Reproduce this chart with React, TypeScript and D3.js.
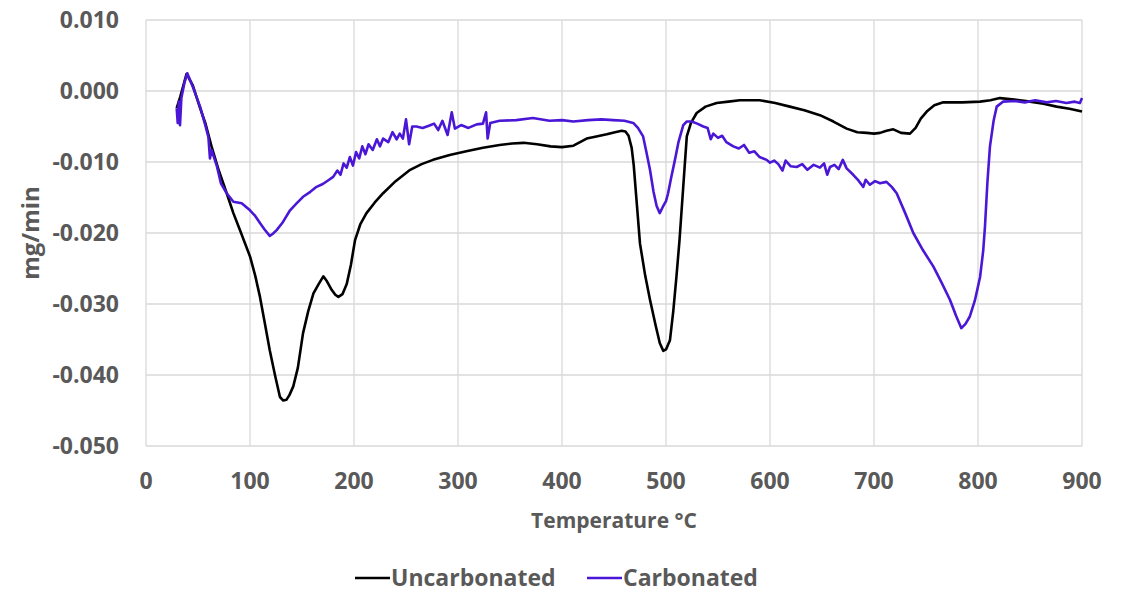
import React from "react";
import * as d3 from "d3";

const xTicks = [0, 100, 200, 300, 400, 500, 600, 700, 800, 900];
const yTicks = [0.01, 0.0, -0.01, -0.02, -0.03, -0.04, -0.05];

const uncarbonated: [number, number][] = [
  [29.5,-0.0024],[33,-0.0008],[39,0.0024],[45,0.0008],[52,-0.0024],[57,-0.0045],[63,-0.0078],[70,-0.0112],[77.6,-0.0144],[84,-0.0172],[90.4,-0.0196],[100,-0.0233],[105,-0.026],[109.6,-0.029],[114,-0.0325],[119,-0.0365],[124,-0.04],[128.8,-0.0431],[132,-0.0436],[135,-0.0435],[138,-0.0428],[141.6,-0.0416],[146,-0.039],[151,-0.0341],[156,-0.031],[161,-0.0285],[166,-0.0272],[170.5,-0.0261],[174,-0.0268],[178.5,-0.028],[182,-0.0287],[185,-0.029],[189,-0.0286],[193,-0.0272],[197,-0.0245],[201,-0.021],[206,-0.0188],[212,-0.0172],[220,-0.0157],[228,-0.0144],[240,-0.0127],[254,-0.0111],[265,-0.0103],[276,-0.0097],[292,-0.009],[308,-0.0085],[324,-0.008],[340,-0.0076],[352,-0.0074],[363,-0.0073],[376,-0.0075],[389,-0.0078],[400,-0.0079],[411,-0.0077],[423.7,-0.0067],[433,-0.0064],[443,-0.0061],[451,-0.0058],[457.4,-0.0056],[461,-0.0057],[464,-0.0063],[467,-0.008],[469,-0.0105],[472,-0.016],[475,-0.0215],[480,-0.026],[484.6,-0.0294],[490,-0.033],[494,-0.0355],[497.4,-0.0366],[500,-0.0364],[503.8,-0.0351],[507,-0.031],[510,-0.0262],[513,-0.021],[515,-0.0168],[518,-0.0105],[520,-0.0064],[524,-0.0045],[529.5,-0.0031],[538,-0.0022],[548.7,-0.0017],[560,-0.0015],[571,-0.0013],[590,-0.0013],[605,-0.0017],[619,-0.0022],[633,-0.0027],[648,-0.0034],[661,-0.0043],[673.7,-0.0053],[684,-0.0058],[693,-0.0059],[700,-0.006],[705.8,-0.0059],[712,-0.0056],[718.6,-0.0054],[726,-0.0059],[734.6,-0.006],[740,-0.0052],[745,-0.0039],[750.7,-0.0029],[758,-0.002],[766.6,-0.0016],[785,-0.0016],[802,-0.0015],[812,-0.0013],[821,-0.001],[835,-0.0012],[850,-0.0015],[863,-0.0018],[875.6,-0.0022],[888,-0.0025],[900,-0.0029]
];

const carbonated: [number, number][] = [
  [29.5,-0.0024],[30.5,-0.0045],[31.5,-0.0015],[32.7,-0.0048],[34,-0.001],[37,0.0012],[39.7,0.0025],[45,0.0006],[52,-0.0022],[57,-0.0048],[60,-0.0065],[61.5,-0.0095],[63,-0.0083],[68,-0.0105],[72,-0.013],[77.6,-0.0144],[84,-0.0156],[92,-0.0158],[96,-0.0163],[100,-0.0168],[105,-0.0176],[109.6,-0.0186],[114,-0.0195],[119,-0.0204],[122,-0.0201],[125.6,-0.0196],[131,-0.0186],[138.5,-0.0168],[145,-0.0158],[151,-0.0149],[158,-0.0142],[164,-0.0135],[170,-0.0131],[175,-0.0126],[180,-0.0121],[184,-0.0112],[187,-0.0118],[190,-0.0102],[193,-0.0108],[196,-0.0093],[199,-0.0105],[202,-0.0086],[205,-0.0095],[208,-0.0078],[211,-0.0089],[214,-0.0075],[218,-0.0083],[222,-0.0068],[225,-0.0078],[228,-0.0067],[233,-0.0072],[237,-0.0058],[241,-0.0068],[244,-0.006],[247,-0.0067],[250,-0.004],[253,-0.0075],[256,-0.005],[260,-0.005],[266,-0.0052],[272,-0.0049],[277,-0.0046],[281,-0.0055],[285,-0.0042],[290,-0.0062],[294,-0.003],[297,-0.0053],[303,-0.0048],[310,-0.0052],[318,-0.0047],[324,-0.0046],[327,-0.003],[328.5,-0.0067],[331,-0.0045],[340,-0.0042],[356,-0.0041],[372,-0.0038],[388,-0.0042],[400,-0.0041],[411,-0.0043],[425,-0.0041],[438,-0.004],[449,-0.0041],[460,-0.0042],[468.5,-0.0045],[473,-0.0052],[478,-0.0064],[481,-0.0085],[484.6,-0.0111],[488,-0.0142],[491,-0.0162],[494,-0.0172],[497,-0.0163],[500,-0.0155],[502,-0.0144],[505,-0.0122],[508.6,-0.0097],[512,-0.0072],[516.6,-0.0048],[520,-0.0043],[524.7,-0.0043],[530,-0.0046],[535.9,-0.005],[540,-0.0052],[543,-0.0068],[545.5,-0.006],[550,-0.0066],[554,-0.0063],[558,-0.0072],[564.7,-0.0078],[570,-0.0081],[575,-0.0076],[580,-0.0087],[585,-0.0085],[590,-0.0093],[596.8,-0.0097],[600,-0.0101],[604,-0.0098],[608,-0.0103],[612,-0.0112],[615,-0.0098],[620,-0.0106],[625.6,-0.0107],[631,-0.0103],[636,-0.0111],[642,-0.0104],[648,-0.0108],[652,-0.0102],[655,-0.0118],[657.7,-0.0107],[662,-0.0104],[666,-0.011],[670,-0.0097],[673.7,-0.0109],[680,-0.0118],[685,-0.0126],[689.7,-0.0135],[692,-0.0125],[696,-0.0132],[701,-0.0127],[705.8,-0.013],[712,-0.0128],[717,-0.0135],[721.8,-0.0144],[730,-0.0172],[737.8,-0.02],[747,-0.0224],[757,-0.0247],[765,-0.027],[773,-0.0294],[779,-0.0317],[784,-0.0334],[788,-0.0328],[792,-0.0318],[797,-0.0295],[802,-0.0262],[805,-0.0225],[806.7,-0.0191],[809,-0.013],[811.5,-0.0078],[815,-0.0042],[818,-0.0022],[824,-0.0015],[835,-0.0014],[845,-0.0016],[855,-0.0013],[866,-0.0016],[875,-0.0014],[885,-0.0017],[893,-0.0015],[898,-0.0017],[901,-0.001]
];

const BLUE = "#4B17D6";
const TEXT = "#595959";
const FONT = "'Open Sans', sans-serif";

export default function App() {
  const W = 1122, H = 593;
  const left = 146, right = 1082, top = 20, bottom = 446;
  const x = d3.scaleLinear().domain([0, 900]).range([left, right]);
  const y = d3.scaleLinear().domain([-0.05, 0.01]).range([bottom, top]);
  const line = d3.line<[number, number]>().x(d => x(Math.min(d[0], 900))).y(d => y(d[1]));

  return (
    <svg width={W} height={H} style={{ position: "absolute", left: 0, top: 0, background: "#fff" }}>
      <rect width={W} height={H} fill="#fff" />
      {xTicks.map(t => (
        <line key={"gx" + t} x1={x(t)} x2={x(t)} y1={top} y2={bottom} stroke="#d9d9d9" strokeWidth={1.3} />
      ))}
      {yTicks.map(t => (
        <line key={"gy" + t} x1={left} x2={right} y1={y(t)} y2={y(t)} stroke="#d9d9d9" strokeWidth={1.3} />
      ))}
      {yTicks.map(t => (
        <text key={"ty" + t} x={119} y={y(t)} dy="0.36em" textAnchor="end" fontFamily={FONT} fontWeight={700} fontSize={23} fill={TEXT}>
          {d3.format(".3f")(t).replace("−", "-")}
        </text>
      ))}
      {xTicks.map(t => (
        <text key={"tx" + t} x={x(t)} y={481} dy="0.36em" textAnchor="middle" fontFamily={FONT} fontWeight={700} fontSize={23} fill={TEXT}>
          {t}
        </text>
      ))}
      <text x={614} y={520} dy="0.36em" textAnchor="middle" fontFamily={FONT} fontWeight={700} fontSize={21} fill={TEXT}>
        Temperature °C
      </text>
      <text transform="translate(30,233) rotate(-90)" dy="0.36em" textAnchor="middle" fontFamily={FONT} fontWeight={700} fontSize={24} fill={TEXT}>
        mg/min
      </text>
      <path d={line(uncarbonated) || ""} fill="none" stroke="#000" strokeWidth={2.6} strokeLinejoin="round" />
      <path d={line(carbonated) || ""} fill="none" stroke={BLUE} strokeWidth={2.6} strokeLinejoin="round" />
      <line x1={355} x2={390} y1={578} y2={578} stroke="#000" strokeWidth={2.6} />
      <text x={391} y={578} dy="0.36em" fontFamily={FONT} fontWeight={700} fontSize={23} fill={TEXT}>Uncarbonated</text>
      <line x1={587} x2={622} y1={578} y2={578} stroke={BLUE} strokeWidth={2.6} />
      <text x={623} y={578} dy="0.36em" fontFamily={FONT} fontWeight={700} fontSize={23} fill={TEXT}>Carbonated</text>
    </svg>
  );
}
